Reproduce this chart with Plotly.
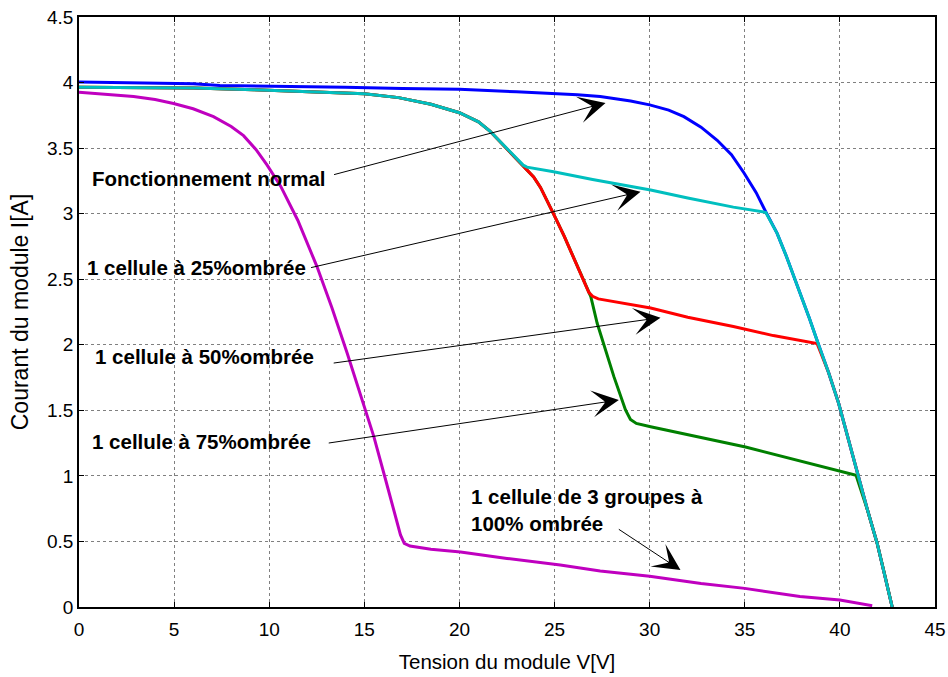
import plotly.graph_objects as go

# I-V characteristics of a PV module under partial shading
v_normal = [0, 2, 4, 6, 7.4, 10, 14, 17, 20, 23, 25, 26.2, 27.4, 28.2, 29, 30, 31,
            31.8, 32.7, 33.55, 34.3, 34.96, 35.6, 36.1, 36.7, 37.2, 37.9, 38.4, 38.88,
            39.4, 39.93, 40.45, 40.95, 41.45, 41.96, 42.35, 42.75]
i_normal = [4.005, 4.0, 3.995, 3.99, 3.978, 3.975, 3.965, 3.955, 3.948, 3.93, 3.918,
            3.907, 3.893, 3.878, 3.86, 3.83, 3.79, 3.74, 3.66, 3.56, 3.45, 3.31, 3.16,
            3.015, 2.85, 2.67, 2.4, 2.2, 2.0, 1.79, 1.556, 1.28, 0.994, 0.74, 0.486,
            0.25, 0.0]

v_25 = [0, 3, 6, 9.2, 12, 15, 16.8, 18.5, 20, 21, 21.6, 22.3, 23.04, 23.35, 23.55,
        24.95, 27, 30.05, 32, 34.4, 36.1, 36.7, 37.2, 37.9, 38.4, 38.88, 39.4, 39.93,
        40.45, 40.95, 41.45, 41.96, 42.35, 42.75]
i_25 = [3.965, 3.962, 3.958, 3.945, 3.93, 3.915, 3.885, 3.835, 3.77, 3.70, 3.63, 3.525,
        3.41, 3.37, 3.355, 3.32, 3.26, 3.18, 3.12, 3.05, 3.01, 2.85, 2.67, 2.4, 2.2, 2.0,
        1.79, 1.556, 1.28, 0.994, 0.74, 0.486, 0.25, 0.0]

v_50 = [0, 3, 6, 9.2, 12, 15, 16.8, 18.5, 20, 21, 21.6, 22.3, 23.04, 23.55, 23.9,
        24.26, 24.6, 24.94, 25.5, 25.9, 26.54, 26.8, 27.0, 27.3, 30.05, 32, 34.4, 36.5,
        38.8, 39.4, 39.93, 40.45, 40.95, 41.45, 41.96, 42.35, 42.75]
i_50 = [3.965, 3.962, 3.958, 3.945, 3.93, 3.915, 3.885, 3.835, 3.77, 3.70, 3.63, 3.525,
        3.41, 3.34, 3.28, 3.20, 3.105, 3.0, 2.83, 2.70, 2.49, 2.40, 2.37, 2.35, 2.28,
        2.21, 2.14, 2.07, 2.01, 1.79, 1.556, 1.28, 0.994, 0.74, 0.486, 0.25, 0.0]

v_75 = [0, 3, 6, 9.2, 12, 15, 16.8, 18.5, 20, 21, 21.6, 22.3, 23.04, 23.55, 23.9,
        24.26, 24.6, 24.94, 25.5, 25.9, 26.54, 26.9, 27.24, 27.7, 28.12, 28.73, 28.99,
        29.3, 30.05, 35.04, 40.85, 41.45, 41.96, 42.35, 42.75]
i_75 = [3.965, 3.962, 3.958, 3.945, 3.93, 3.915, 3.885, 3.835, 3.77, 3.70, 3.63, 3.525,
        3.41, 3.34, 3.28, 3.20, 3.105, 3.0, 2.83, 2.70, 2.49, 2.37, 2.164, 1.95, 1.757,
        1.503, 1.43, 1.40, 1.375, 1.22, 1.005, 0.74, 0.486, 0.25, 0.0]

v_100 = [0, 1.5, 2.87, 4.0, 4.97, 6.0, 7.07, 8.0, 8.65, 9.3, 9.89, 10.6, 11.5, 12.5,
         13.3, 14.1, 14.8, 15.5, 16.1, 16.64, 16.9, 17.1, 17.4, 18.5, 20.06, 22.5, 25.3,
         27.4, 30, 32.7, 35, 37.9, 40, 41.7]
i_100 = [3.926, 3.91, 3.893, 3.87, 3.84, 3.80, 3.74, 3.665, 3.595, 3.49, 3.37, 3.21,
         2.95, 2.60, 2.28, 1.935, 1.62, 1.30, 0.98, 0.69, 0.55, 0.485, 0.465, 0.44, 0.42,
         0.37, 0.32, 0.275, 0.235, 0.18, 0.142, 0.08, 0.053, 0.01]

x_ticks = [0, 5, 10, 15, 20, 25, 30, 35, 40, 45]
y_ticks = [0, 0.5, 1, 1.5, 2, 2.5, 3, 3.5, 4, 4.5]
y_tick_text = ["0", "0.5", "1", "1.5", "2", "2.5", "3", "3.5", "4", "4.5"]

labels = [
    "<b>Fonctionnement normal</b>",
    "<b>1 cellule à 25%ombrée</b>",
    "<b>1 cellule à 50%ombrée</b>",
    "<b>1 cellule à 75%ombrée</b>",
    "<b>1 cellule de 3 groupes à<br>100% ombrée</b>",
]
label_v = [0.6, 0.34, 0.76, 0.6, 20.48]
label_i = [3.272, 2.586, 1.907, 1.259, 0.74]

arrow_tail_v = [13.33, 12.12, 13.31, 13.05, 28.3]
arrow_tail_i = [3.295, 2.586, 1.859, 1.249, 0.60]
arrow_head_v = [27.68, 29.52, 30.57, 28.38, 31.62]
arrow_head_i = [3.845, 3.168, 2.207, 1.579, 0.282]

FONT = "Liberation Sans, Arial, sans-serif"

fig = go.Figure()
series = [
    (v_normal, i_normal, "#0000FF"),
    (v_75, i_75, "#008000"),
    (v_50, i_50, "#FF0000"),
    (v_25, i_25, "#00BFBF"),
    (v_100, i_100, "#BF00BF"),
]
for v, i, c in series:
    fig.add_trace(go.Scatter(x=v, y=i, mode="lines", line=dict(color=c, width=3),
                             showlegend=False, hoverinfo="skip"))

annotations = []
for t, x, y in zip(labels, label_v, label_i):
    annotations.append(dict(text=t, x=x, y=y, xref="x", yref="y", xanchor="left",
                            yanchor="middle", align="left", showarrow=False,
                            font=dict(family=FONT, size=20.5, color="black")))
for tv, ti, hv, hi in zip(arrow_tail_v, arrow_tail_i, arrow_head_v, arrow_head_i):
    annotations.append(dict(text="", x=hv, y=hi, ax=tv, ay=ti, xref="x", yref="y",
                            axref="x", ayref="y", showarrow=True, arrowhead=3,
                            arrowsize=4.5, arrowwidth=1, arrowcolor="black",
                            standoff=0, startstandoff=0))

fig.update_layout(
    width=948, height=677,
    margin=dict(l=79, r=13, t=17, b=70),
    paper_bgcolor="white", plot_bgcolor="white",
    annotations=annotations,
    xaxis=dict(range=[0, 45], tickvals=x_ticks, showgrid=True, gridcolor="#808080",
               griddash="dot", gridwidth=1, zeroline=False, showline=True,
               linecolor="black", linewidth=1.5, mirror="ticks", ticks="inside",
               ticklen=5, tickcolor="black", ticklabelstandoff=4, automargin=False,
               tickfont=dict(family=FONT, size=19, color="black"),
               title=dict(text="Tension du module V[V]", standoff=16,
                          font=dict(family=FONT, size=20.5, color="black"))),
    yaxis=dict(range=[0, 4.5], tickvals=y_ticks, ticktext=y_tick_text, showgrid=True,
               gridcolor="#808080", griddash="dot", gridwidth=1, zeroline=False,
               showline=True, linecolor="black", linewidth=1.5, mirror="ticks",
               ticks="inside", ticklen=5, tickcolor="black", automargin=False,
               tickfont=dict(family=FONT, size=19, color="black"),
               title=dict(text="Courant du module I[A]", standoff=12,
                          font=dict(family=FONT, size=23, color="black"))),
)

fig.write_html("out.html")
